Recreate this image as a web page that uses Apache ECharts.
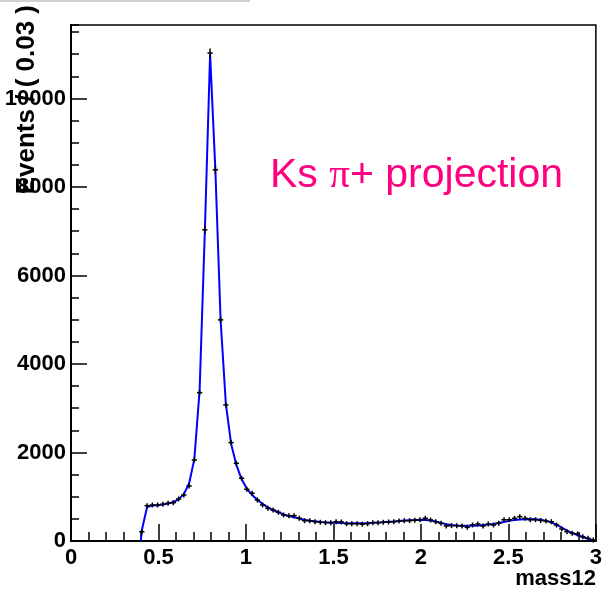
<!DOCTYPE html>
<html>
<head>
<meta charset="utf-8">
<script src="https://cdn.jsdelivr.net/npm/echarts@6/dist/echarts.min.js"></script>
<style>
  html, body { margin: 0; padding: 0; background: #ffffff; }
  #chart { width: 605px; height: 589px; }
</style>
</head>
<body>
<div id="chart"></div>
<script>
// Histogram binning of mass12 (GeV), 0.03 wide bins starting at 0.39
const binLow = 0.39;
const binWidth = 0.03;

// Events per bin
const counts = [
  210, 798, 814, 814, 830, 852, 866, 950, 1040, 1243,
  1831, 3353, 7031, 11026, 8388, 4997, 3075, 2223, 1756, 1417,
  1168, 1078, 927, 814, 739, 700, 649, 588, 572, 572,
  513, 459, 459, 436, 423, 414, 414, 436, 430, 391,
  391, 391, 380, 391, 414, 414, 423, 430, 436, 450,
  459, 459, 470, 480, 513, 475, 436, 400, 339, 347,
  347, 339, 309, 362, 384, 339, 384, 362, 400, 480,
  480, 513, 550, 513, 480, 480, 465, 450, 436, 362,
  271, 211, 174, 159, 98, 60, 23
];

// Fitted model evaluated at the bin centres
const fitValues = [
  250, 770, 800, 810, 825, 845, 880, 940, 1060, 1300,
  1850, 3400, 7000, 11000, 8400, 5000, 3100, 2200, 1720, 1400,
  1180, 1040, 930, 840, 760, 700, 650, 600, 565, 535,
  505, 480, 460, 445, 432, 422, 415, 410, 405, 402,
  400, 400, 402, 405, 410, 418, 425, 433, 442, 452,
  462, 470, 476, 478, 474, 462, 440, 410, 380, 360,
  348, 342, 342, 346, 352, 360, 370, 385, 405, 430,
  455, 475, 488, 494, 495, 490, 478, 455, 420, 370,
  300, 235, 180, 135, 90, 50, 15
];

// Model threshold point where the curve starts
const fitStart = [0.399, 0];

const xTicks = [0, 0.5, 1, 1.5, 2, 2.5, 3];
const yTicks = [0, 2000, 4000, 6000, 8000, 10000];

const xMin = 0, xMax = 3;
const yMin = 0, yMax = 11660;

const centers = counts.map((_, i) => binLow + binWidth * (i + 0.5));
const histData = counts.map((n, i) => [centers[i], n, Math.sqrt(n)]);
const fitData = [fitStart].concat(fitValues.map((v, i) => [centers[i], v]));

const labelFont = {
  color: '#000',
  fontFamily: '"Liberation Sans", Arial, sans-serif',
  fontWeight: 'bold',
  fontSize: 22
};

const chart = echarts.init(document.getElementById('chart'), null, { renderer: 'canvas' });

chart.setOption({
  animation: false,
  backgroundColor: '#ffffff',
  grid: {
    left: 71, right: 7, top: 25, bottom: 48,
    show: true, borderColor: '#000', borderWidth: 1.5, backgroundColor: 'transparent'
  },
  xAxis: {
    type: 'value', min: xMin, max: xMax, interval: 0.5,
    axisLine: { show: true, lineStyle: { color: '#000', width: 2 } },
    axisTick: { show: true, inside: true, length: 17, lineStyle: { color: '#000', width: 1.5 } },
    minorTick: { show: true, splitNumber: 5, length: 9, lineStyle: { color: '#000', width: 1.5 } },
    splitLine: { show: false },
    axisLabel: Object.assign({ margin: 6, formatter: v => xTicks.includes(v) ? String(v) : '' }, labelFont)
  },
  yAxis: [
    {
      type: 'value', min: yMin, max: yMax, interval: 2000, position: 'left',
      axisLine: { show: true, lineStyle: { color: '#000', width: 2 } },
      axisTick: { show: true, inside: true, length: 16, lineStyle: { color: '#000', width: 1.5 } },
      splitLine: { show: false },
      axisLabel: Object.assign({ margin: 5, showMaxLabel: false,
        formatter: v => yTicks.includes(v) ? String(v) : '' }, labelFont)
    },
    {
      type: 'value', min: yMin, max: yMax, interval: 500, position: 'left',
      axisLine: { show: false },
      axisTick: { show: true, inside: true, length: 8, lineStyle: { color: '#000', width: 1.5 } },
      splitLine: { show: false },
      axisLabel: { show: false }
    }
  ],
  series: [
    {
      name: 'model',
      type: 'line',
      data: fitData,
      showSymbol: false,
      smooth: false,
      lineStyle: { color: '#0000ff', width: 2 },
      z: 2
    },
    {
      name: 'events',
      type: 'custom',
      data: histData,
      encode: { x: 0, y: 1 },
      z: 3,
      renderItem: function (params, api) {
        const x = api.value(0), y = api.value(1), e = api.value(2);
        const left = api.coord([x - binWidth / 2, y]);
        const right = api.coord([x + binWidth / 2, y]);
        const c = api.coord([x, y]);
        const top = api.coord([x, y + e]);
        const bot = api.coord([x, y - e]);
        const half = Math.max(2.5, (bot[1] - top[1]) / 2);
        const style = { stroke: '#000', lineWidth: 1.5 };
        return {
          type: 'group',
          children: [
            { type: 'line', shape: { x1: left[0], y1: left[1], x2: right[0], y2: right[1] }, style: style },
            { type: 'line', shape: { x1: c[0], y1: c[1] - half, x2: c[0], y2: c[1] + half }, style: style }
          ]
        };
      }
    }
  ],
  graphic: [
    {
      type: 'rect', left: 0, top: 0, shape: { width: 250, height: 2 },
      style: { fill: '#d0d0d0' }
    },
    {
      type: 'text', x: 27, y: 5, rotation: Math.PI / 2,
      style: {
        text: 'Events / ( 0.03 )', fill: '#000',
        font: 'bold 26px "Liberation Sans", Arial, sans-serif',
        align: 'right', verticalAlign: 'middle'
      }
    },
    {
      type: 'text', x: 596, y: 579,
      style: {
        text: 'mass12', fill: '#000',
        font: 'bold 22px "Liberation Sans", Arial, sans-serif',
        align: 'right', verticalAlign: 'middle'
      }
    },
    {
      type: 'text', x: 270, y: 176,
      style: {
        text: '{s|Ks }{g|π}{s|+ projection}',
        align: 'left', verticalAlign: 'middle',
        rich: {
          s: { fill: '#ff0080', fontSize: 41, fontFamily: '"Liberation Sans", Arial, sans-serif' },
          g: { fill: '#ff0080', fontSize: 41, fontFamily: '"Liberation Serif", "Times New Roman", serif' }
        }
      }
    }
  ]
});
</script>
</body>
</html>
